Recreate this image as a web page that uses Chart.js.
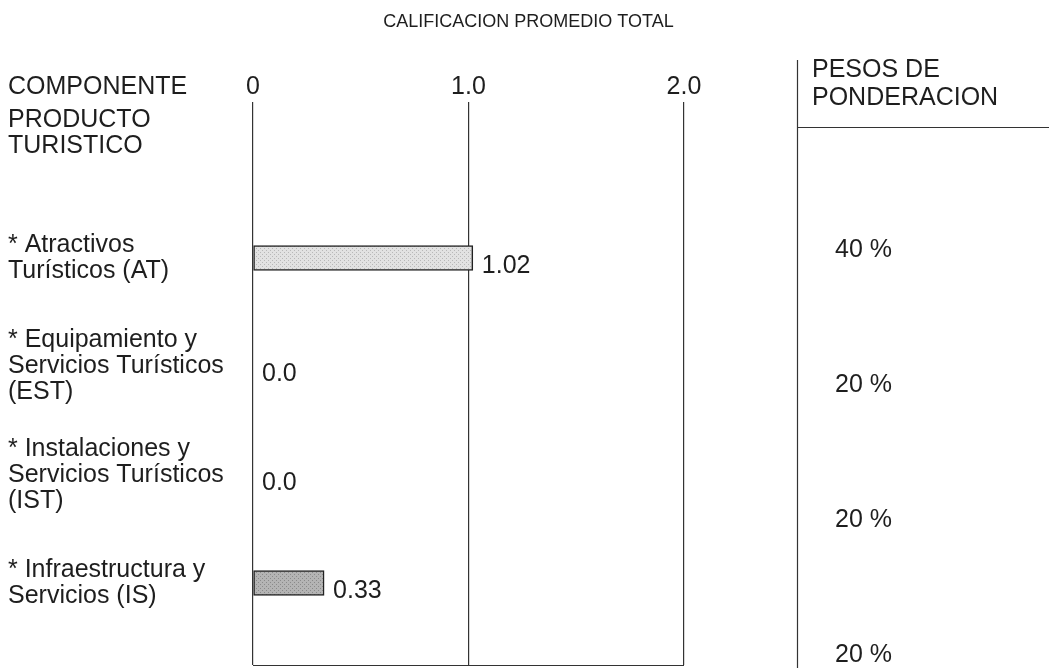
<!DOCTYPE html>
<html>
<head>
<meta charset="utf-8">
<script src="https://cdn.jsdelivr.net/npm/chart.js@4.4.1/dist/chart.umd.min.js"></script>
<style>
  html, body { margin: 0; padding: 0; background: #fff; }
  canvas { display: block; }
</style>
</head>
<body>
<canvas id="chart" width="1049" height="668"></canvas>
<script>
// datos
const titulo = 'CALIFICACION PROMEDIO TOTAL';
const encabezadoComponente = 'COMPONENTE';
const encabezadoGrupo = ['PRODUCTO', 'TURISTICO'];
const encabezadoPesos = ['PESOS DE', 'PONDERACION'];
const componentes = [
    ['* Atractivos', 'Turísticos (AT)'],
    ['* Equipamiento y', 'Servicios Turísticos', '(EST)'],
    ['* Instalaciones y', 'Servicios Turísticos', '(IST)'],
    ['* Infraestructura y', 'Servicios (IS)']
];
const calificacion = [1.02, 0.0, 0.0, 0.33];
const pesos = [40, 20, 20, 20];
const escala = [0, 1, 2];
const etiquetasEscala = ['0', '1.0', '2.0'];

const FUENTE = '"Liberation Sans", Arial, sans-serif';
const TINTA = '#1e1e1e';
Chart.defaults.font.family = FUENTE;
Chart.defaults.color = TINTA;

const puntos = calificacion.map((v, i) => ({x: v, y: i}));

function punteado(base, punto) {
    const c = document.createElement('canvas');
    c.width = 4;
    c.height = 4;
    const g = c.getContext('2d');
    g.fillStyle = base;
    g.fillRect(0, 0, 4, 4);
    g.fillStyle = punto;
    g.fillRect(0, 0, 1, 1);
    g.fillRect(2, 2, 1, 1);
    return g.createPattern(c, 'repeat');
}

// sin margen extra por las etiquetas que sobresalen
function sinRelleno(s) {
    s.paddingTop = 0;
    s.paddingBottom = 0;
    s.paddingLeft = 0;
    s.paddingRight = 0;
}

// una marca por fila, y el rango fijo
function filas(lista, min, max) {
    return s => {
        s.ticks = lista.map((x, i) => ({value: i}));
        s.min = min;
        s.max = max;
    };
}

const ctx = document.getElementById('chart').getContext('2d');
const rellenoClaro = punteado('#e2e2e2', '#b8b8b8');
const rellenoOscuro = punteado('#b4b4b4', '#8a8a8a');

const etiquetasValor = {
    id: 'etiquetasValor',
    afterDatasetsDraw(chart) {
        const c = chart.ctx;
        const meta = chart.getDatasetMeta(0);
        c.save();
        c.font = '25px ' + FUENTE;
        c.fillStyle = TINTA;
        c.textBaseline = 'middle';
        meta.data.forEach((bar, i) => {
            const v = calificacion[i];
            c.fillText(v.toFixed(v === 0 ? 1 : 2), bar.x + 9, bar.y + 8);
        });
        c.restore();
    }
};

const marco = {
    id: 'marco',
    afterDraw(chart) {
        const c = chart.ctx;
        const area = chart.chartArea;
        const panelX = 797;
        c.save();
        c.strokeStyle = '#333';
        c.lineWidth = 1.2;
        c.beginPath();
        c.moveTo(area.left, area.bottom + 0.5);
        c.lineTo(area.right, area.bottom + 0.5);
        c.moveTo(panelX + 0.5, 60);
        c.lineTo(panelX + 0.5, chart.height);
        c.moveTo(panelX, 127.5);
        c.lineTo(chart.width, 127.5);
        c.stroke();

        c.font = '25px ' + FUENTE;
        c.fillStyle = TINTA;
        c.textBaseline = 'middle';
        c.fillText(encabezadoComponente, 8, 87);
        c.fillText(encabezadoGrupo[0], 8, 120);
        c.fillText(encabezadoGrupo[1], 8, 146);
        c.fillText(encabezadoPesos[0], panelX + 15, 70);
        c.fillText(encabezadoPesos[1], panelX + 15, 98);
        c.restore();
    }
};

new Chart(ctx, {
    type: 'bar',
    data: {
        datasets: [{
            data: puntos,
            backgroundColor: [rellenoClaro, rellenoClaro, rellenoClaro, rellenoOscuro],
            borderColor: '#222',
            borderWidth: 1.5,
            borderSkipped: false,
            barThickness: 25
        }]
    },
    options: {
        indexAxis: 'y',
        responsive: false,
        animation: false,
        layout: {padding: {left: 8, right: 0, top: 0, bottom: 3}},
        plugins: {
            legend: {display: false},
            tooltip: {enabled: false},
            title: {
                display: true,
                text: titulo,
                color: TINTA,
                font: {size: 18, weight: 'normal'},
                padding: {top: 11, bottom: 0}
            }
        },
        scales: {
            x: {
                type: 'linear',
                position: 'top',
                min: 0,
                max: 2,
                afterBuildTicks: s => { s.ticks = escala.map(v => ({value: v})); },
                afterFit: s => { s.height = 102 - 32.6; sinRelleno(s); },
                ticks: {
                    callback: (v, i) => etiquetasEscala[i],
                    font: {size: 25},
                    padding: 0,
                    maxRotation: 0
                },
                grid: {color: '#333', lineWidth: 1.2, drawTicks: false},
                border: {display: false}
            },
            y: {
                type: 'linear',
                position: 'left',
                reverse: true,
                offset: false,
                min: -1.4404,
                max: 3.757,
                afterBuildTicks: filas(componentes, -1.4404, 3.757),
                afterFit: s => { s.width = 245; sinRelleno(s); },
                ticks: {
                    callback: v => componentes[v],
                    crossAlign: 'far',
                    autoSkip: false,
                    font: {size: 25, lineHeight: 1.04},
                    padding: 0
                },
                grid: {display: false},
                border: {display: false}
            },
            y2: {
                type: 'linear',
                position: 'right',
                reverse: true,
                offset: false,
                min: -1.0963,
                max: 3.074,
                afterBuildTicks: filas(pesos, -1.0963, 3.074),
                afterFit: s => { s.width = 365; sinRelleno(s); },
                ticks: {
                    callback: v => pesos[v] + ' %',
                    autoSkip: false,
                    font: {size: 25},
                    padding: 0
                },
                grid: {
                    display: true,
                    drawOnChartArea: false,
                    drawTicks: true,
                    tickLength: 151,
                    color: 'rgba(0,0,0,0)'
                },
                border: {display: false}
            }
        }
    },
    plugins: [etiquetasValor, marco]
});
</script>
</body>
</html>
